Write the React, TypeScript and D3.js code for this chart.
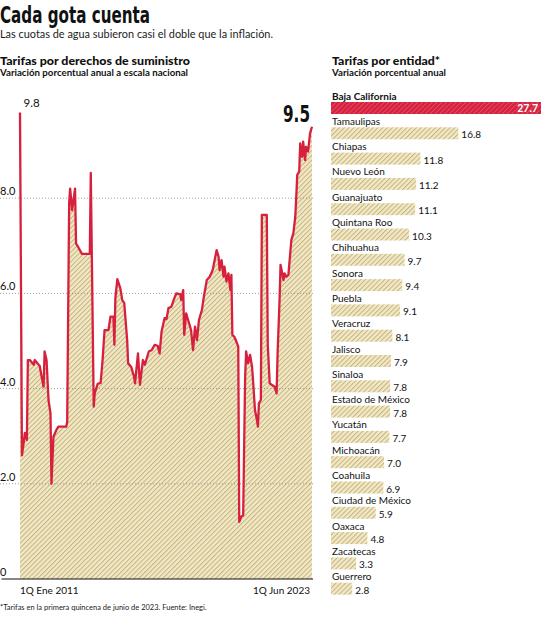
import * as d3 from "d3";

// Quincena index (0 = 1Q Ene 2011, 297 = 1Q Jun 2023) and annual % change
const periods = [
  0, 2, 5, 7, 8, 10, 14, 15, 19, 20, 22, 24, 25, 27, 29, 31, 32, 34, 37, 39, 47, 48, 50, 51, 53, 56,
  57, 59, 63, 71, 72, 75, 76, 79, 82, 84, 86, 90, 92, 95, 96, 97, 99, 102, 104, 106, 109, 110, 113,
  116, 117, 120, 122, 125, 127, 131, 134, 137, 140, 142, 144, 147, 149, 151, 154, 157, 159, 163, 164,
  166, 167, 169, 171, 174, 176, 178, 180, 182, 185, 187, 190, 193, 196, 198, 200, 202, 203, 205, 207,
  208, 210, 212, 214, 215, 216, 218, 220, 222, 223, 225, 227, 229, 230, 232, 234, 236, 237, 239, 241,
  242, 243, 245, 246, 251, 252, 254, 256, 259, 261, 262, 264, 265, 268, 269, 271, 273, 275, 276, 278,
  280, 281, 282, 284, 285, 287, 288, 290, 291, 293, 295, 297,
];
const values = [
  9.8, 2.6, 3.07, 2.92, 4.6, 4.6, 4.5, 4.6, 4.5, 4.48, 4.25, 4.04, 4.78, 4.6, 3.76, 3.48, 2.0, 2.99,
  3.13, 3.2, 3.2, 3.3, 7.9, 8.2, 7.75, 8.2, 7.05, 6.98, 6.83, 6.83, 8.53, 3.62, 3.9, 4.1, 4.12, 4.6,
  5.23, 5.23, 5.51, 5.51, 4.92, 5.9, 6.3, 6.11, 5.86, 5.8, 5.02, 4.53, 4.46, 4.25, 4.11, 4.74, 4.08,
  4.6, 4.5, 4.78, 4.81, 4.92, 4.9, 4.74, 5.2, 5.48, 5.46, 5.69, 5.72, 5.9, 6.0, 5.98, 5.86, 6.07,
  5.13, 5.58, 5.44, 5.23, 4.81, 5.3, 5.02, 5.44, 5.65, 5.93, 6.28, 6.35, 6.49, 6.7, 6.91, 6.77, 6.49,
  6.7, 6.35, 6.56, 6.25, 6.42, 6.07, 6.39, 5.13, 5.09, 4.99, 4.88, 1.2, 1.31, 1.34, 4.25, 4.78, 4.53,
  4.71, 4.46, 4.18, 3.55, 3.34, 3.2, 3.69, 3.76, 7.65, 7.65, 4.92, 4.11, 4.08, 4.04, 3.9, 4.74, 5.86,
  6.6, 6.28, 6.42, 6.35, 6.39, 6.88, 7.12, 7.26, 7.61, 8.03, 8.49, 8.56, 9.15, 8.87, 9.19, 8.8, 9.08,
  8.98, 9.36, 9.5,
];
const yTicks = [0, 2, 4, 6, 8];

const states = [
  "Baja California", "Tamaulipas", "Chiapas", "Nuevo León", "Guanajuato", "Quintana Roo",
  "Chihuahua", "Sonora", "Puebla", "Veracruz", "Jalisco", "Sinaloa", "Estado de México",
  "Yucatán", "Michoacán", "Coahuila", "Ciudad de México", "Oaxaca", "Zacatecas", "Guerrero",
];
const stateValues = [
  27.7, 16.8, 11.8, 11.2, 11.1, 10.3, 9.7, 9.4, 9.1, 8.1, 7.9, 7.8, 7.8, 7.7, 7.0, 6.9, 5.9, 4.8,
  3.3, 2.8,
];

const RED = "#d6203e";
const FONT = "Lato, 'Open Sans', sans-serif";
const NARROW = "'Liberation Sans Narrow', 'DejaVu Sans Condensed', sans-serif";

export default function App() {
  const series = periods.map((p, i) => ({ p, v: values[i] }));

  const x = d3.scaleLinear().domain([0, 297]).range([20, 312]);
  const y = d3.scaleLinear().domain([0, 9.8]).range([579, 112.5]);

  const area = d3
    .area<{ p: number; v: number }>()
    .x((d) => x(d.p))
    .y0(y(0))
    .y1((d) => y(d.v));
  const line = d3
    .line<{ p: number; v: number }>()
    .x((d) => x(d.p))
    .y((d) => y(d.v));

  // bars
  const band = d3.scaleBand().domain(states).range([89, 595]).padding(0);
  const bx = d3.scaleLinear().domain([0, 27.7]).range([331, 541]);

  const last = series[series.length - 1];

  return (
    <svg
      width={545}
      height={620}
      style={{ position: "absolute", left: 0, top: 0, background: "#fff" }}
    >
      <defs>
        <pattern
          id="hatch"
          patternUnits="userSpaceOnUse"
          width={3.4}
          height={3.4}
          patternTransform="rotate(45)"
        >
          <rect width={3.4} height={3.4} fill="#f1e8c8" />
          <line x1={0.5} y1={0} x2={0.5} y2={3.4} stroke="#c6b479" strokeWidth={1} />
        </pattern>
        <pattern
          id="hatchRed"
          patternUnits="userSpaceOnUse"
          width={3.4}
          height={3.4}
          patternTransform="rotate(45)"
        >
          <rect width={3.4} height={3.4} fill={RED} />
          <line x1={0.5} y1={0} x2={0.5} y2={3.4} stroke="#e0556b" strokeWidth={0.8} />
        </pattern>
      </defs>

      {/* Headline */}
      <text
        x={0}
        y={22.5}
        fontFamily={NARROW}
        fontWeight={700}
        fontSize={23.5}
        fill="#111"
        textLength={150}
        lengthAdjust="spacingAndGlyphs"
      >
        Cada gota cuenta
      </text>
      <text
        x={0}
        y={38}
        fontFamily={FONT}
        fontSize={11.5}
        fill="#222"
        textLength={273}
        lengthAdjust="spacingAndGlyphs"
      >
        Las cuotas de agua subieron casi el doble que la inflación.
      </text>

      {/* Left chart titles */}
      <text
        x={0}
        y={64.5}
        fontFamily={FONT}
        fontWeight={900}
        fontSize={11.5}
        fill="#111"
        textLength={190}
        lengthAdjust="spacingAndGlyphs"
      >
        Tarifas por derechos de suministro
      </text>
      <text
        x={0}
        y={76}
        fontFamily={FONT}
        fontWeight={700}
        fontSize={9}
        fill="#111"
        textLength={188}
        lengthAdjust="spacingAndGlyphs"
      >
        Variación porcentual anual a escala nacional
      </text>

      {/* Right chart titles */}
      <text
        x={332}
        y={64.5}
        fontFamily={FONT}
        fontWeight={900}
        fontSize={11.5}
        fill="#111"
        textLength={108}
        lengthAdjust="spacingAndGlyphs"
      >
        Tarifas por entidad*
      </text>
      <text
        x={332}
        y={76}
        fontFamily={FONT}
        fontWeight={700}
        fontSize={9}
        fill="#111"
        textLength={114}
        lengthAdjust="spacingAndGlyphs"
      >
        Variación porcentual anual
      </text>

      {/* Area + line */}
      <path d={area(series) ?? ""} fill="url(#hatch)" />

      {yTicks.map((t) => (
        <g key={t}>
          {t > 0 && (
            <line
              x1={0}
              x2={313}
              y1={y(t)}
              y2={y(t)}
              stroke="#888"
              strokeWidth={0.8}
              strokeDasharray="1,2"
            />
          )}
          <text x={0} y={y(t) - 3} fontFamily={FONT} fontSize={11} fill="#111">
            {t === 0 ? "0" : d3.format(".1f")(t)}
          </text>
        </g>
      ))}

      <line x1={1.5} x2={313} y1={y(0)} y2={y(0)} stroke="#111" strokeWidth={1.2} />

      <path
        d={line(series) ?? ""}
        fill="none"
        stroke={RED}
        strokeWidth={2.3}
        strokeLinejoin="round"
      />

      <text x={x(0) + 3.5} y={107} fontFamily={FONT} fontSize={11.5} fill="#111">
        {d3.format(".1f")(series[0].v)}
      </text>
      <text
        x={310}
        y={121.5}
        textAnchor="end"
        fontFamily={NARROW}
        fontWeight={700}
        fontSize={23}
        fill="#111"
        textLength={27}
        lengthAdjust="spacingAndGlyphs"
      >
        {d3.format(".1f")(last.v)}
      </text>

      <text x={x(0)} y={594} fontFamily={FONT} fontSize={10} fill="#111">
        1Q Ene 2011
      </text>
      <text x={310} y={594} textAnchor="end" fontFamily={FONT} fontSize={10} fill="#111">
        1Q Jun 2023
      </text>

      {/* Bars */}
      {states.map((s, i) => {
        const y0 = band(s) ?? 0;
        const v = stateValues[i];
        const first = i === 0;
        return (
          <g key={s}>
            <text
              x={332}
              y={y0 + 10.5}
              fontFamily={FONT}
              fontWeight={first ? 700 : 400}
              fontSize={10}
              fill="#111"
            >
              {s}
            </text>
            <rect
              x={bx(0)}
              y={y0 + 13}
              width={bx(v) - bx(0)}
              height={12}
              fill={first ? "url(#hatchRed)" : "url(#hatch)"}
            />
            {first ? (
              <text
                x={bx(v) - 3}
                y={y0 + 23}
                textAnchor="end"
                fontFamily={FONT}
                fontWeight={700}
                fontSize={10.5}
                fill="#fff"
              >
                {d3.format(".1f")(v)}
              </text>
            ) : (
              <text x={bx(v) + 3} y={y0 + 24} fontFamily={FONT} fontSize={10} fill="#111">
                {d3.format(".1f")(v)}
              </text>
            )}
          </g>
        );
      })}

      {/* Footnote */}
      <text x={0} y={610} fontFamily={FONT} fontSize={7.5} fill="#222">
        *Tarifas en la primera quincena de junio de 2023. Fuente: Inegi.
      </text>
    </svg>
  );
}
